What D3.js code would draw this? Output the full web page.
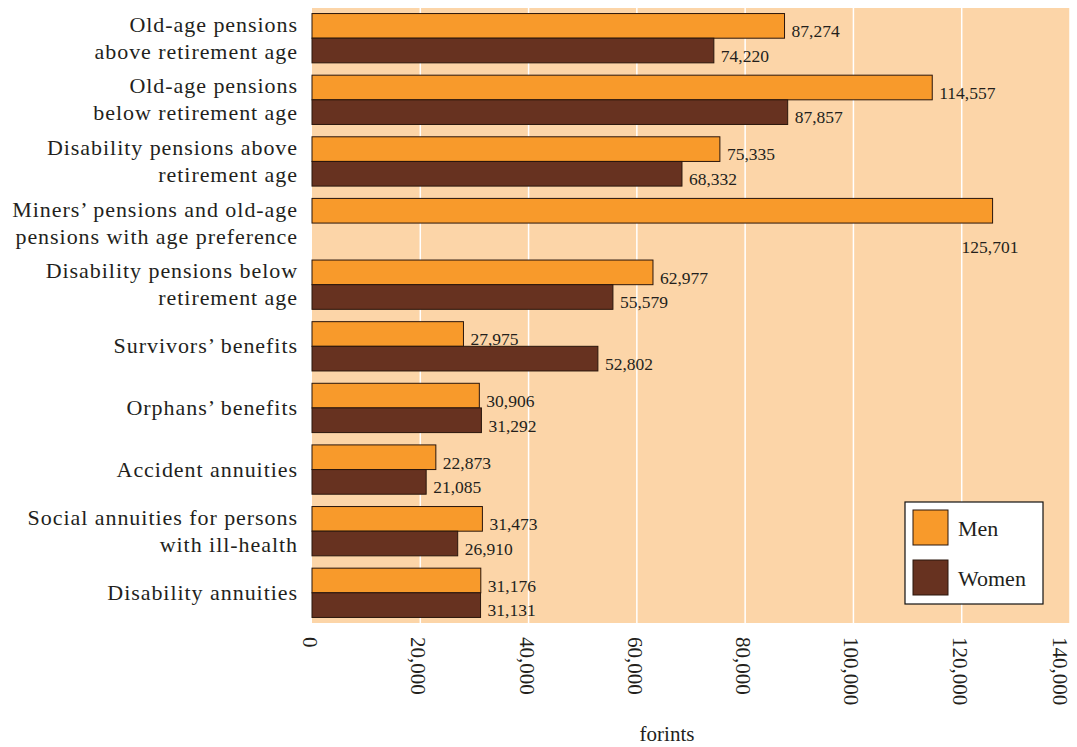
<!DOCTYPE html>
<html><head><meta charset="utf-8">
<script src="https://cdn.jsdelivr.net/npm/d3@7"></script>
<style>body{margin:0;background:#fff}svg{display:block}text{font-family:"Liberation Serif","DejaVu Serif",serif}</style>
</head><body><svg id="c" width="1077" height="747"></svg>
<script>
const categories = [
  ["Old-age pensions","above retirement age"],
  ["Old-age pensions","below retirement age"],
  ["Disability pensions above","retirement age"],
  ["Miners’ pensions and old-age","pensions with age preference"],
  ["Disability pensions below","retirement age"],
  ["Survivors’ benefits"],
  ["Orphans’ benefits"],
  ["Accident annuities"],
  ["Social annuities for persons","with ill-health"],
  ["Disability annuities"]
];
const men   = [87274,114557,75335,125701,62977,27975,30906,22873,31473,31176];
const women = [74220,87857,68332,null,55579,52802,31292,21085,26910,31131];
const seriesNames = ["Men","Women"];
const colors = ["#F89A2B","#673220"];
const xTicks = [0,20000,40000,60000,80000,100000,120000,140000];
const xTitle = "forints";

const W = 1077;
const svg = d3.select("#c");
const L=312,R=1070,T=8,B=623;
const x = d3.scaleLinear().domain([0,140000]).range([L,R]);
const ids = categories.map((d,i)=>i);
const y = d3.scaleBand().domain(ids).range([T,B]).paddingInner(0.2).paddingOuter(0.09);
const sub = d3.scaleBand().domain([0,1]).range([0,y.bandwidth()]);
const fmt = d3.format(",");

svg.append("rect").attr("x",L).attr("y",T).attr("width",R-L).attr("height",B-T).attr("fill","#FCD5A8");
svg.append("g").selectAll("line").data(xTicks.slice(1)).join("line")
  .attr("x1",d=>x(d)).attr("x2",d=>x(d)).attr("y1",T).attr("y2",B)
  .attr("stroke","#fff").attr("stroke-width",1.5);

const data = [];
ids.forEach(i=>{
  [men[i],women[i]].forEach((v,s)=>{ if(v!=null) data.push({i,s,v}); });
});
svg.append("g").selectAll("rect").data(data).join("rect")
  .attr("x",x(0)).attr("y",d=>y(d.i)+sub(d.s))
  .attr("width",d=>x(d.v)-x(0)).attr("height",sub.bandwidth())
  .attr("fill",d=>colors[d.s]).attr("stroke","#2a160c").attr("stroke-width",1);

svg.append("g").selectAll("text").data(data).join("text")
  .attr("x",d=> (d.s===0 && women[d.i]==null) ? x(d.v)-31 : x(d.v)+7)
  .attr("y",d=> (d.s===0 && women[d.i]==null) ? y(d.i)+sub(1)+sub.bandwidth()+5 : y(d.i)+sub(d.s)+sub.bandwidth()-1)
  .attr("font-size",17.5).attr("fill","#231f1c")
  .text(d=>fmt(d.v));

// category labels
const cl = svg.append("g");
ids.forEach(i=>{
  const lines = categories[i];
  const cy = y(i)+y.bandwidth()/2;
  const lh = 27;
  lines.forEach((t,k)=>{
    cl.append("text").attr("x",298).attr("y",cy+(k-(lines.length-1)/2)*lh+7)
      .attr("text-anchor","end").attr("font-size",22).attr("letter-spacing","0.95px")
      .attr("fill","#231f1c").text(t);
  });
});

// x axis labels rotated
const ax = svg.append("g").attr("transform",`translate(0,${B})`)
  .call(d3.axisBottom(x).tickValues(xTicks).tickSize(0).tickFormat(d=>fmt(d)));
ax.select(".domain").remove();
ax.selectAll("text").attr("font-size",21).attr("fill","#231f1c")
  .attr("font-family","Liberation Serif").attr("transform","rotate(90)")
  .attr("text-anchor","start").attr("x",14).attr("y",0)
  .attr("dy",d=> x(d)+9 > W ? "0.85em" : "0.45em");

svg.append("text").attr("x",667).attr("y",741).attr("text-anchor","middle")
  .attr("font-size",21).attr("fill","#231f1c").text(xTitle);

// legend
const lg = svg.append("g").attr("transform","translate(905,502)");
lg.append("rect").attr("width",138).attr("height",102).attr("fill","#fff").attr("stroke","#111").attr("stroke-width",1.2);
seriesNames.forEach((n,k)=>{
  lg.append("rect").attr("x",8).attr("y",8+k*50).attr("width",35).attr("height",35)
    .attr("fill",colors[k]).attr("stroke","#2a160c");
  lg.append("text").attr("x",53).attr("y",34+k*50).attr("font-size",22).attr("fill","#231f1c").text(n);
});
</script></body></html>
